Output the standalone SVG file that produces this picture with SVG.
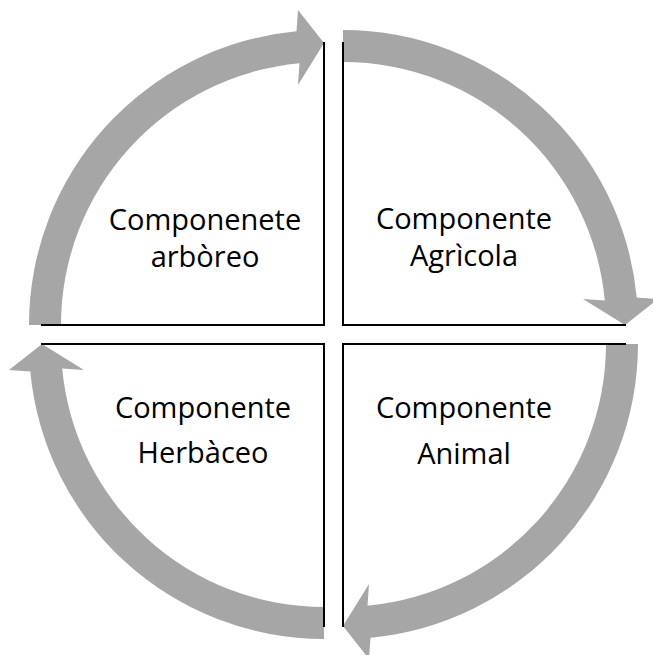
<svg xmlns="http://www.w3.org/2000/svg" width="653" height="655" viewBox="0 0 653 655">
  <style>
    .arc { fill: #A6A6A6; }
    .edge { fill: none; stroke: #000; stroke-width: 2; stroke-linecap: square; }
    .label { font-family: "Open Sans", "Liberation Sans", sans-serif; font-size: 29px; fill: #000; text-anchor: middle; }
  </style>
  <defs>
    <!-- quarter block-arc arrow, centred on its quadrant corner, running from left to top -->
    <path id="quarterArrow" d="M -295 0 A 295 295 0 0 1 -27.5 -293.7 L -26 -315 L 0 -282 L -26 -240 L -24.5 -261.8 A 263 263 0 0 0 -263 0 Z"/>
    <!-- two straight edges of the quadrant -->
    <path id="quarterEdges" d="M 0 -282 L 0 0 L -282 0"/>
  </defs>

  <g id="quadrant-arboreo">
    <g transform="translate(324,325)">
      <use href="#quarterArrow" class="arc"/>
      <use href="#quarterEdges" class="edge"/>
    </g>
    <text class="label" x="205" y="230">Componenete</text>
    <text class="label" x="205" y="267">arbòreo</text>
  </g>

  <g id="quadrant-agricola">
    <g transform="translate(343,325) rotate(90)">
      <use href="#quarterArrow" class="arc"/>
      <use href="#quarterEdges" class="edge"/>
    </g>
    <text class="label" x="464" y="229">Componente</text>
    <text class="label" x="464" y="266">Agrìcola</text>
  </g>

  <g id="quadrant-animal">
    <g transform="translate(343,344) rotate(180)">
      <use href="#quarterArrow" class="arc"/>
      <use href="#quarterEdges" class="edge"/>
    </g>
    <text class="label" x="464" y="418">Componente</text>
    <text class="label" x="464" y="464">Animal</text>
  </g>

  <g id="quadrant-herbaceo">
    <g transform="translate(324,344) rotate(270)">
      <use href="#quarterArrow" class="arc"/>
      <use href="#quarterEdges" class="edge"/>
    </g>
    <text class="label" x="203" y="418">Componente</text>
    <text class="label" x="203" y="463">Herbàceo</text>
  </g>

  <g id="connectors"></g>
</svg>
